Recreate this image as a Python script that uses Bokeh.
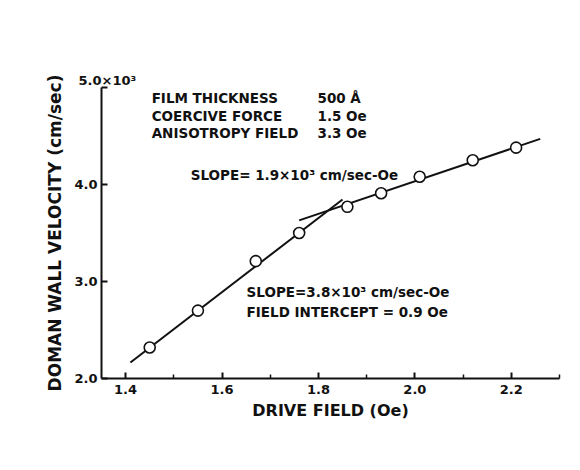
from bokeh.plotting import figure
from bokeh.models import FixedTicker, Label, Range1d, Title
from bokeh.embed import file_html
from bokeh.resources import INLINE

# data (drive field in Oe, velocity in 10^3 cm/sec)
field = [1.45, 1.55, 1.67, 1.76, 1.86, 1.93, 2.01, 2.12, 2.21]
velocity = [2.32, 2.70, 3.21, 3.50, 3.77, 3.91, 4.08, 4.25, 4.38]
fit_steep_x = [1.41, 1.85]
fit_steep_y = [2.165, 3.845]
fit_shallow_x = [1.76, 2.26]
fit_shallow_y = [3.63, 4.47]
x_ticks = [1.4, 1.6, 1.8, 2.0, 2.2]
x_minor = [1.5, 1.7, 1.9, 2.1, 2.3]
y_ticks = [2.0, 3.0, 4.0, 5.0]
y_tick_labels = {2.0: "2.0", 3.0: "3.0", 4.0: "4.0", 5.0: ""}
y_top_label = "5.0×10³"

FONT = "DejaVu Sans"
INK = "#111111"

p = figure(width=572, height=462, output_backend="svg", toolbar_location=None,
           x_range=Range1d(1.35, 2.30), y_range=Range1d(2.0, 5.0),
           min_border_left=101, min_border_right=13, min_border_top=87, min_border_bottom=84)
p.outline_line_color = None
p.xgrid.visible = False
p.ygrid.visible = False
p.background_fill_color = "white"
p.border_fill_color = "white"

p.line(fit_steep_x, fit_steep_y, line_color=INK, line_width=2)
p.line(fit_shallow_x, fit_shallow_y, line_color=INK, line_width=2)
p.scatter(field, velocity, marker="circle", size=11, fill_color="white",
          line_color=INK, line_width=1.6)

xa = p.xaxis[0]
xa.ticker = FixedTicker(ticks=x_ticks, minor_ticks=x_minor)
xa.major_label_overrides = {t: f"{t:.1f}" for t in x_ticks}
ya = p.yaxis[0]
ya.ticker = FixedTicker(ticks=y_ticks, minor_ticks=[])
ya.major_label_overrides = y_tick_labels

for ax in (xa, ya):
    ax.axis_line_width = 2
    ax.axis_line_color = INK
    ax.major_tick_in = 6
    ax.major_tick_out = 0
    ax.major_tick_line_width = 2
    ax.major_tick_line_color = INK
    ax.minor_tick_in = 4
    ax.minor_tick_out = 0
    ax.minor_tick_line_width = 1.5
    ax.minor_tick_line_color = INK
    ax.major_label_text_font = FONT
    ax.major_label_text_font_style = "bold"
    ax.major_label_text_font_size = "13px"
    ax.major_label_text_color = INK
    ax.axis_label_text_font = FONT
    ax.axis_label_text_font_style = "bold"
    ax.axis_label_text_color = INK

xa.axis_label = "DRIVE FIELD (Oe)"
xa.axis_label_text_font_size = "16px"
xa.major_label_standoff = 6
xa.axis_label_standoff = 4
ya.axis_label = "DOMAN WALL VELOCITY (cm/sec)"
ya.axis_label_text_font_size = "17px"
ya.major_label_standoff = 4
ya.axis_label_standoff = 6

p.add_layout(Title(text=y_top_label, align="left", offset=-23, standoff=0,
                   text_font=FONT, text_font_size="13px", text_font_style="bold",
                   text_color=INK), "above")

def lab(x, y, text, size="13.5px", align="left"):
    p.add_layout(Label(x=x, y=y, text=text, text_font=FONT, text_font_size=size,
                       text_font_style="bold", text_color=INK,
                       text_baseline="middle", text_align=align))

lab(1.454, 4.887, "FILM THICKNESS")
lab(1.454, 4.711, "COERCIVE FORCE")
lab(1.454, 4.526, "ANISOTROPY FIELD")
lab(1.798, 4.887, "500 Å")
lab(1.798, 4.711, "1.5 Oe")
lab(1.798, 4.526, "3.3 Oe")
lab(1.535, 4.093, "SLOPE= 1.9×10³ cm/sec-Oe")
lab(1.651, 2.887, "SLOPE=3.8×10³ cm/sec-Oe")
lab(1.651, 2.690, "FIELD INTERCEPT = 0.9 Oe")

open("out.html", "w").write(file_html(p, INLINE))
